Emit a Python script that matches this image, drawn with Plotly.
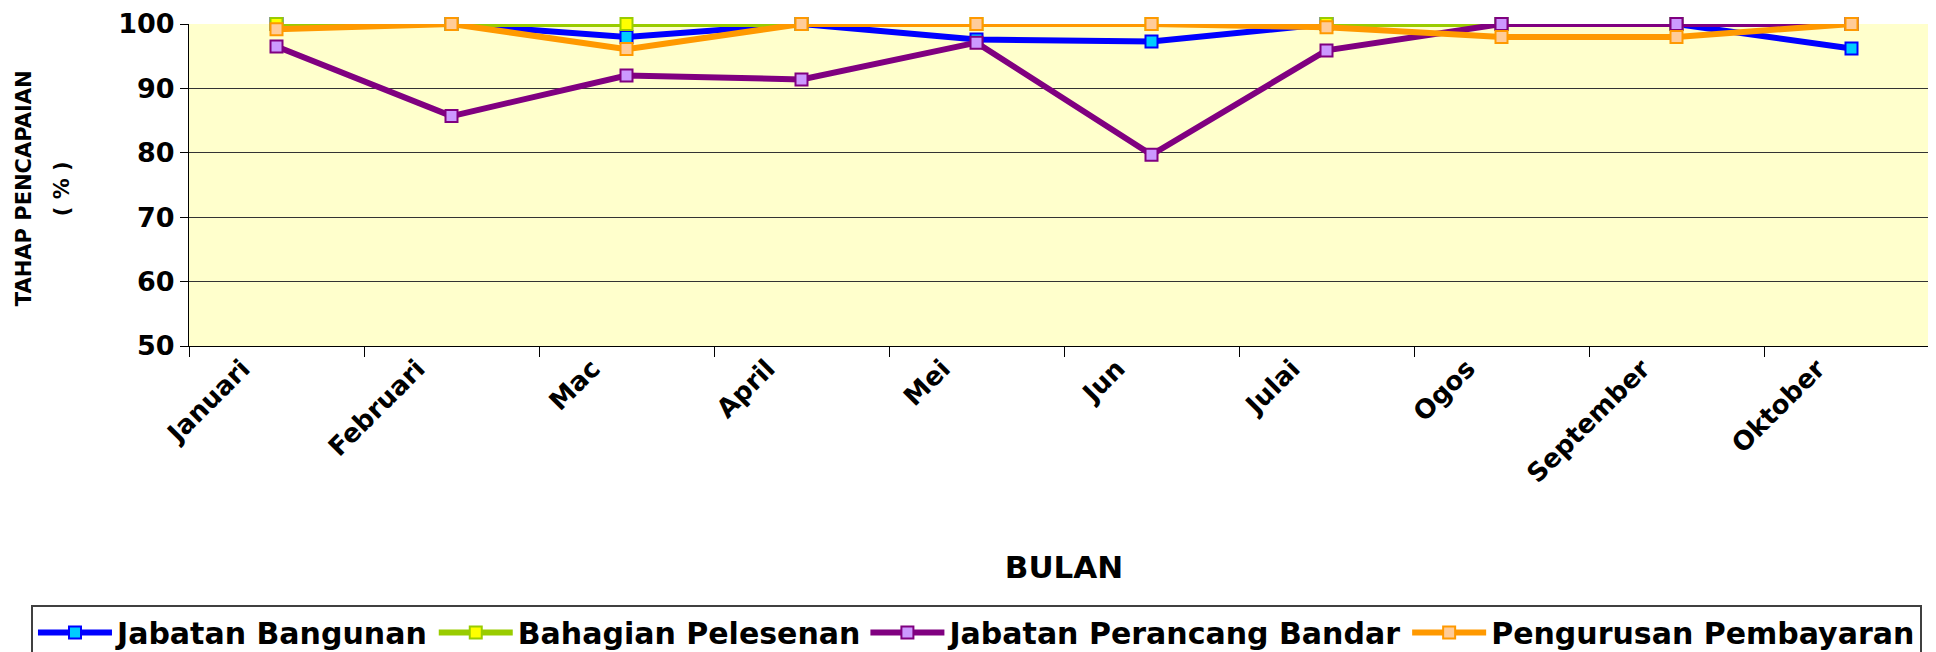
import plotly.graph_objects as go

# data
bulan = ["Januari", "Februari", "Mac", "April", "Mei", "Jun", "Julai", "Ogos", "September", "Oktober"]
bangunan = [100, 100, 98.0, 100, 97.6, 97.3, 100, 100, 100, 96.2]
pelesenan = [100, 100, 100, 100, 100, 100, 100, 100, 100, 100]
perancang = [96.5, 85.7, 92.0, 91.4, 97.1, 79.7, 95.9, 100, 100, 100]
pembayaran = [99.2, 100, 96.1, 100, 100, 100, 99.5, 98.0, 98.0, 100]

series = [
    ("Jabatan Bangunan", bangunan, "#0000FF", "#00CCFF"),
    ("Bahagian Pelesenan", pelesenan, "#99CC00", "#FFFF00"),
    ("Jabatan Perancang Bandar", perancang, "#800080", "#CC99FF"),
    ("Pengurusan Pembayaran", pembayaran, "#FF9900", "#FFCC99"),
]

FONT = "DejaVu Sans"

fig = go.Figure()
for name, vals, line_col, fill_col in series:
    fig.add_trace(go.Scatter(
        x=bulan, y=vals, name=name, mode="lines+markers",
        line=dict(color=line_col, width=6),
        marker=dict(symbol="square", size=12, color=fill_col,
                    line=dict(color=line_col, width=2)),
        cliponaxis=False))

# the page body adds 8px, so margins are set 8px smaller
fig.update_layout(
    width=1936, height=652,
    margin=dict(l=181, r=5, t=16, b=314, autoexpand=False),
    paper_bgcolor="white", plot_bgcolor="#FFFFCC",
    font=dict(family=FONT, color="black"),
    showlegend=True,
    legend=dict(orientation="h", x=-0.0903, y=-0.803, xanchor="left", yanchor="top",
                bgcolor="white", bordercolor="#404040", borderwidth=2,
                itemwidth=74,
                font=dict(family=FONT, size=30, weight="bold", color="black")),
)

# y axis title in two lines, as in the original
fig.add_annotation(text="TAHAP PENCAPAIAN", textangle=-90, showarrow=False,
                   xref="paper", yref="paper", x=-0.0943, y=0.49,
                   xanchor="center", yanchor="middle",
                   font=dict(family=FONT, size=21, weight="bold"))
fig.add_annotation(text="( % )", textangle=-90, showarrow=False,
                   xref="paper", yref="paper", x=-0.0726, y=0.49,
                   xanchor="center", yanchor="middle",
                   font=dict(family=FONT, size=21, weight="bold"))

fig.update_xaxes(
    type="category", range=[-0.5, 9.5],
    tickangle=-45, tickson="boundaries",
    ticks="outside", ticklen=10, tickcolor="black",
    ticklabelshift=-34, ticklabelstandoff=-4,
    showline=True, linecolor="black", linewidth=1,
    showgrid=False,
    tickfont=dict(family=FONT, size=26, weight="bold"),
    title=dict(text="BULAN", standoff=68,
               font=dict(family=FONT, size=31, weight="bold")))

fig.update_yaxes(
    range=[50, 100], dtick=10,
    ticks="outside", ticklen=8, tickcolor="black",
    showline=True, linecolor="black", linewidth=1,
    showgrid=True, gridcolor="#333333", gridwidth=1, zeroline=False,
    tickfont=dict(family=FONT, size=27, weight="bold"))

fig.write_html("out.html")
